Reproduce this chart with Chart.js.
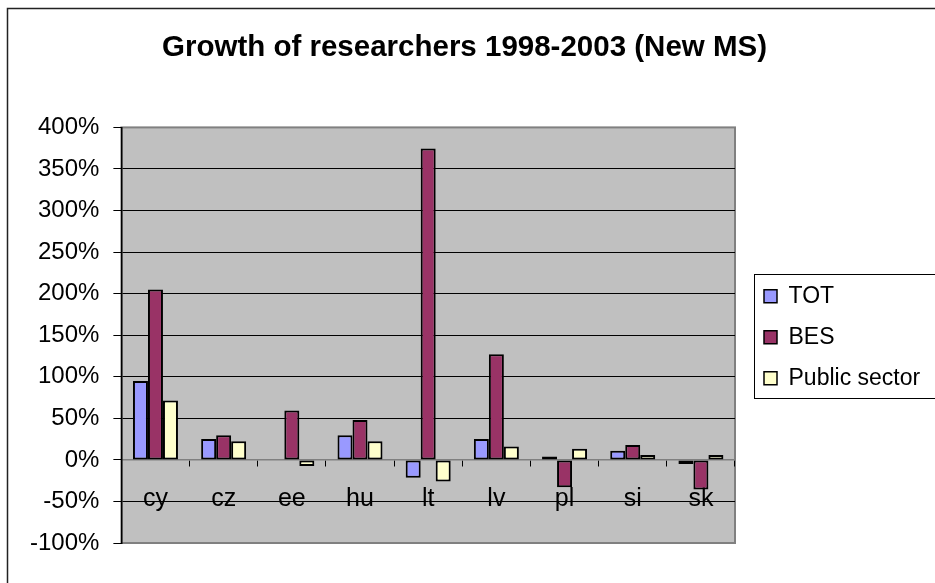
<!DOCTYPE html>
<html>
<head>
<meta charset="utf-8">
<script src="https://cdn.jsdelivr.net/npm/chart.js@4"></script>
<style>
  html, body { margin: 0; padding: 0; background: #fff; }
  #wrap { width: 935px; height: 583px; position: relative; }
</style>
</head>
<body>
<div id="wrap"><canvas id="growth-chart"></canvas></div>
<script>
// Growth of researchers, 1998-2003, new member states
const countries = ['cy', 'cz', 'ee', 'hu', 'lt', 'lv', 'pl', 'si', 'sk'];
const totGrowth = [95, 25, null, 29.5, -21.5, 25, 4, 11, -5];
const besGrowth = [205, 29.5, 59.5, 48, 374.5, 127, -33, 18, -35.5];
const publicGrowth = [71.5, 22.5, -7.5, 22.5, -26, 16, 13.5, 6, 6];
const yTicks = [-100, -50, 0, 50, 100, 150, 200, 250, 300, 350, 400];

const LEGEND_WIDTH = 200;
const LEGEND_SHIFT_X = 11;
const LEGEND_SHIFT_Y = 2;
const TITLE_SHIFT_X = -11;

Chart.defaults.font.family = '"Liberation Sans", Arial, sans-serif';
Chart.defaults.color = '#000';

// Grey plot background, frame round the legend and the outer chart border
const chartFrame = {
  id: 'chartFrame',
  afterInit(chart) {
    const legend = chart.legend;
    const fit = legend.fit;
    legend.fit = function () {
      fit.call(this);
      this.width = LEGEND_WIDTH;
    };
  },
  afterLayout(chart) {
    const legend = chart.legend;
    legend.left += LEGEND_SHIFT_X;
    legend.right += LEGEND_SHIFT_X;
    legend.top += LEGEND_SHIFT_Y;
    legend.bottom += LEGEND_SHIFT_Y;
    if (chart.titleBlock) {
      chart.titleBlock.left += TITLE_SHIFT_X;
      chart.titleBlock.right += TITLE_SHIFT_X;
    }
  },
  beforeDraw(chart) {
    const { ctx, chartArea: a } = chart;
    ctx.save();
    ctx.fillStyle = '#c0c0c0';
    ctx.fillRect(a.left, a.top, a.right - a.left, a.bottom - a.top);
    ctx.strokeStyle = '#808080';
    ctx.lineWidth = 2;
    ctx.strokeRect(a.left, a.top, a.right - a.left, a.bottom - a.top);
    ctx.restore();
  },
  afterDraw(chart) {
    const { ctx } = chart;
    const boxes = chart.legend.legendHitBoxes;
    ctx.save();
    ctx.strokeStyle = '#000';
    ctx.lineWidth = 1;
    if (boxes && boxes.length) {
      const first = boxes[0];
      const last = boxes[boxes.length - 1];
      const top = Math.round(first.top) - 10.5;
      const bottom = Math.round(last.top + last.height) + 8.5;
      ctx.strokeRect(Math.round(first.left) - 9.5, top, 400, bottom - top);
    }
    ctx.strokeStyle = '#222';
    ctx.lineWidth = 1.5;
    ctx.beginPath();
    ctx.moveTo(7.5, 600);
    ctx.lineTo(7.5, 8.5);
    ctx.lineTo(950, 8.5);
    ctx.stroke();
    ctx.restore();
  }
};

new Chart(document.getElementById('growth-chart'), {
  type: 'bar',
  data: {
    labels: countries,
    datasets: [
      { label: 'TOT', data: totGrowth, backgroundColor: '#9999ff' },
      { label: 'BES', data: besGrowth, backgroundColor: '#993366' },
      { label: 'Public sector', data: publicGrowth, backgroundColor: '#ffffcc' }
    ]
  },
  options: {
    responsive: true,
    maintainAspectRatio: false,
    animation: false,
    events: [],
    layout: { padding: { left: 16, right: 0, top: 0, bottom: 40 } },
    datasets: {
      bar: {
        borderColor: '#000',
        borderWidth: 2,
        borderSkipped: false,
        categoryPercentage: 0.66,
        barPercentage: 1
      }
    },
    plugins: {
      title: {
        display: true,
        text: 'Growth of researchers 1998-2003 (New MS)',
        color: '#000',
        font: { size: 29.5, weight: 'bold', lineHeight: 1.2 },
        padding: { top: 30, bottom: 62 }
      },
      legend: {
        position: 'right',
        align: 'center',
        fullSize: false,
        labels: {
          color: '#000',
          font: { size: 23, lineHeight: 1 },
          boxWidth: 13,
          boxHeight: 13,
          padding: 18,
          generateLabels(chart) {
            return chart.data.datasets.map((ds, i) => ({
              text: ds.label,
              fillStyle: ds.backgroundColor,
              strokeStyle: '#000',
              lineWidth: 1.5,
              datasetIndex: i
            }));
          }
        }
      },
      tooltip: { enabled: false }
    },
    scales: {
      x: {
        position: { y: 0 },
        grid: {
          offset: true,
          drawOnChartArea: false,
          drawTicks: true,
          tickLength: 6,
          tickColor: '#000',
          tickWidth: 1
        },
        border: { display: true, color: '#808080', width: 1.5 },
        ticks: {
          padding: 18,
          font: { size: 25 },
          color: '#000',
          maxRotation: 0
        }
      },
      y: {
        min: -100,
        max: 400,
        afterBuildTicks(scale) {
          scale.ticks = yTicks.map(v => ({ value: v }));
        },
        grid: {
          color: ctx => (ctx.tick && (ctx.tick.value === 0 || ctx.tick.value === 400 || ctx.tick.value === -100)) ? '#808080' : '#000',
          lineWidth: 1,
          drawTicks: true,
          tickLength: 8,
          tickColor: '#000'
        },
        border: { display: true, color: '#000', width: 1.5 },
        ticks: {
          padding: 14,
          font: { size: 24 },
          color: '#000',
          callback: value => value + '%'
        }
      }
    }
  },
  plugins: [chartFrame]
});
</script>
</body>
</html>
